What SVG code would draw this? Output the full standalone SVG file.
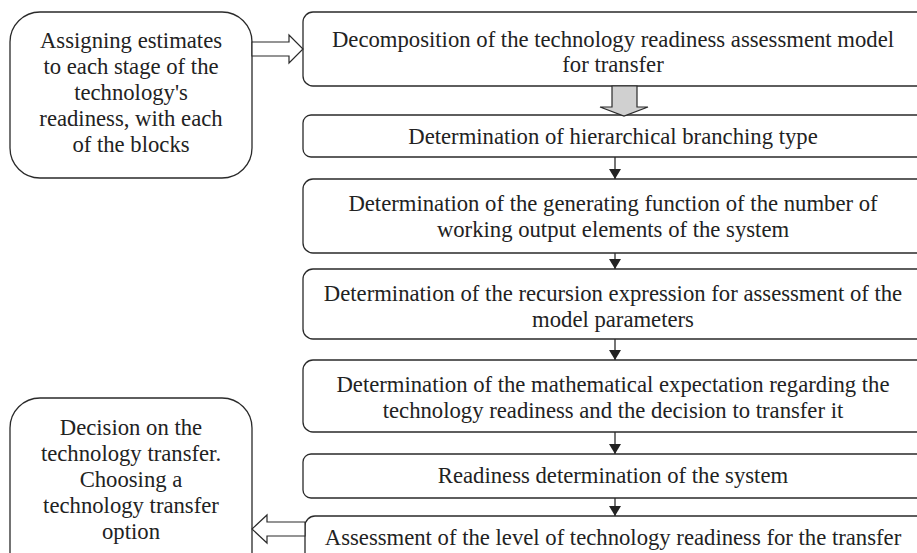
<svg xmlns="http://www.w3.org/2000/svg" width="917" height="553" viewBox="0 0 917 553">
<defs>
<style>
.box{fill:#fff;stroke:#2a2a2a;stroke-width:1.3}
.t{font-family:"Liberation Serif","Times New Roman",serif;font-size:22.7px;fill:#222;text-anchor:middle}
.ln{stroke:#2a2a2a;stroke-width:1.3;fill:none}
.hollow{fill:#fff;stroke:#2a2a2a;stroke-width:1.2}
</style>
<marker id="ah" viewBox="0 0 10 12" refX="10" refY="6" markerWidth="10" markerHeight="12" markerUnits="userSpaceOnUse" orient="auto">
<path d="M0,0 L10,6 L0,12 z" fill="#222"/>
</marker>
</defs>
<rect width="917" height="553" fill="#fff"/>
<g id="n-assign">
<rect class="box" x="10" y="12" width="242" height="166" rx="30"/>
<text class="t" x="131" y="48">Assigning estimates</text>
<text class="t" x="131" y="74">to each stage of the</text>
<text class="t" x="131" y="100">technology's</text>
<text class="t" x="131" y="126">readiness, with each</text>
<text class="t" x="131" y="152">of the blocks</text>
</g>
<g id="n-decision">
<rect class="box" x="10" y="398" width="242" height="185" rx="30"/>
<text class="t" x="131" y="435">Decision on the</text>
<text class="t" x="131" y="461">technology transfer.</text>
<text class="t" x="131" y="487">Choosing a</text>
<text class="t" x="131" y="513">technology transfer</text>
<text class="t" x="131" y="539">option</text>
</g>
<g id="n1">
<rect class="box" x="303" y="12" width="640" height="74" rx="10"/>
<text class="t" x="613" y="47">Decomposition of the technology readiness assessment model</text>
<text class="t" x="613" y="72">for transfer</text>
</g>
<g id="n2">
<rect class="box" x="303" y="115" width="640" height="42" rx="8"/>
<text class="t" x="613" y="144">Determination of hierarchical branching type</text>
</g>
<g id="n3">
<rect class="box" x="303" y="179" width="640" height="74" rx="10"/>
<text class="t" x="613" y="211">Determination of the generating function of the number of</text>
<text class="t" x="613" y="237">working output elements of the system</text>
</g>
<g id="n4">
<rect class="box" x="303" y="269" width="640" height="70" rx="10"/>
<text class="t" x="613" y="301">Determination of the recursion expression for assessment of the</text>
<text class="t" x="613" y="327">model parameters</text>
</g>
<g id="n5">
<rect class="box" x="303" y="360" width="640" height="72" rx="10"/>
<text class="t" x="613" y="392">Determination of the mathematical expectation regarding the</text>
<text class="t" x="613" y="418">technology readiness and the decision to transfer it</text>
</g>
<g id="n6">
<rect class="box" x="303" y="454" width="640" height="44" rx="8"/>
<text class="t" x="613" y="483">Readiness determination of the system</text>
</g>
<g id="n7">
<rect class="box" x="305" y="516" width="640" height="70" rx="10"/>
<text class="t" x="613" y="545">Assessment of the level of technology readiness for the transfer</text>
</g>
<g id="connectors">
<path class="hollow" d="M252,42 L289,42 L289,35 L303,49 L289,63 L289,56 L252,56 Z"/>
<path d="M612,86 L637,86 L637,107 L648,107 L624,116 L600,107 L612,107 Z" fill="#d0d0d0" stroke="#2a2a2a" stroke-width="1.2"/>
<line class="ln" x1="615" y1="157" x2="615" y2="179" marker-end="url(#ah)"/>
<line class="ln" x1="615" y1="253" x2="615" y2="269" marker-end="url(#ah)"/>
<line class="ln" x1="615" y1="339" x2="615" y2="360" marker-end="url(#ah)"/>
<line class="ln" x1="615" y1="432" x2="615" y2="454" marker-end="url(#ah)"/>
<line class="ln" x1="615" y1="498" x2="615" y2="516" marker-end="url(#ah)"/>
<path class="hollow" d="M305,522 L267,522 L267,515 L252,529 L267,543 L267,536 L305,536 Z"/>
</g>
</svg>
